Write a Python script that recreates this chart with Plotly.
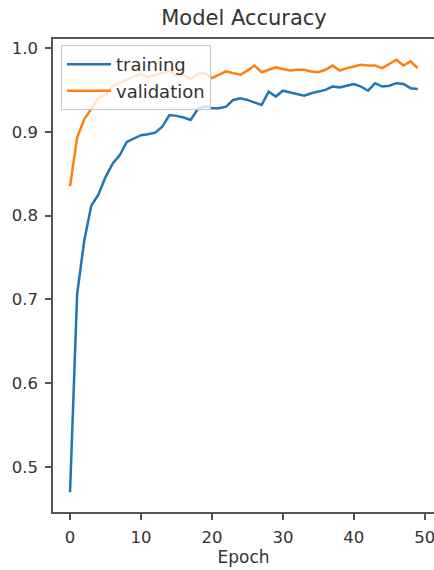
import plotly.graph_objects as go

epochs = list(range(50))
training = [0.470, 0.706, 0.770, 0.812, 0.825, 0.846, 0.862, 0.872, 0.888, 0.892,
            0.896, 0.897, 0.899, 0.906, 0.920, 0.919, 0.917, 0.914, 0.927, 0.930,
            0.928, 0.928, 0.930, 0.938, 0.940, 0.938, 0.935, 0.932, 0.948, 0.942,
            0.949, 0.947, 0.945, 0.943, 0.946, 0.948, 0.950, 0.954, 0.953, 0.955,
            0.957, 0.954, 0.949, 0.958, 0.954, 0.955, 0.958, 0.957, 0.952, 0.951]
validation = [0.835, 0.893, 0.915, 0.928, 0.940, 0.944, 0.955, 0.958, 0.962, 0.966,
              0.969, 0.965, 0.968, 0.970, 0.973, 0.967, 0.968, 0.963, 0.969, 0.970,
              0.964, 0.968, 0.972, 0.970, 0.968, 0.973, 0.979, 0.971, 0.974, 0.977,
              0.975, 0.973, 0.974, 0.974, 0.972, 0.971, 0.974, 0.979, 0.973, 0.976,
              0.978, 0.980, 0.979, 0.979, 0.976, 0.981, 0.986, 0.979, 0.984, 0.976]
x_ticks = [0, 10, 20, 30, 40, 50]
y_ticks = [0.5, 0.6, 0.7, 0.8, 0.9, 1.0]

FONT = "DejaVu Sans"
TEXT = "#333333"
AXIS = "#555555"

W, H = 434, 570

fig = go.Figure()
fig.add_trace(go.Scatter(x=epochs, y=training, mode="lines", name="training",
                         legendgroup="t", line=dict(color="#1f77b4", width=2.5)))
fig.add_trace(go.Scatter(x=epochs, y=validation, mode="lines", name="validation",
                         legendgroup="v", line=dict(color="#ff7f0e", width=2.5)))

fig.update_layout(
    width=W, height=H,
    margin=dict(l=53, r=0, t=39, b=58),
    paper_bgcolor="white", plot_bgcolor="white",
    font=dict(family=FONT, size=17, color=TEXT),
    title=dict(text="Model Accuracy", x=244 / W, xanchor="center", xref="container",
               y=1 - 18 / H, yanchor="middle", yref="container",
               font=dict(family=FONT, size=21, color=TEXT)),
    showlegend=True,
    legend=dict(x=0.021, y=0.987, xanchor="left", yanchor="top",
                bgcolor="rgba(255,255,255,0.8)", bordercolor="#cccccc", borderwidth=1,
                font=dict(family=FONT, size=18, color=TEXT),
                itemwidth=44, tracegroupgap=0),
)
fig.update_xaxes(range=[-2.4, 51.3], tickvals=x_ticks, showgrid=False, zeroline=False,
                 showline=True, linecolor=AXIS, linewidth=1.5, mirror=True,
                 ticks="outside", ticklen=6, tickcolor=AXIS, tickwidth=1.5,
                 tickfont=dict(size=16.5), ticklabelstandoff=3, ticklabeloverflow="allow",
                 title=dict(text="Epoch", standoff=6, font=dict(family=FONT, size=17, color=TEXT)))
fig.update_yaxes(range=[0.4464, 1.0107], tickvals=y_ticks, tickformat=".1f",
                 showgrid=False, zeroline=False,
                 showline=True, linecolor=AXIS, linewidth=1.5, mirror=False,
                 ticks="outside", ticklen=6, tickcolor=AXIS, tickwidth=1.5,
                 tickfont=dict(size=16.5), ticklabelstandoff=4)

fig.write_html("out.html", config={"displayModeBar": False},
               post_script="document.body.style.margin='0';")
